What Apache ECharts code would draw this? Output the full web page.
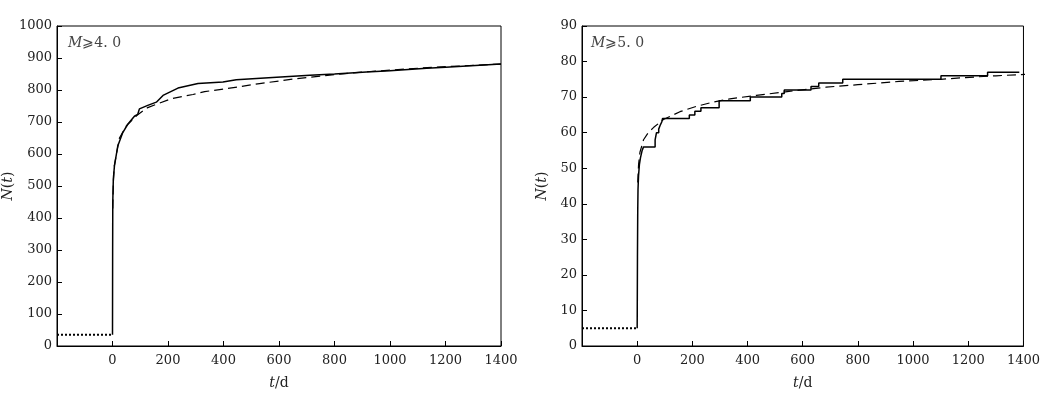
<!DOCTYPE html>
<html>
<head>
<meta charset="utf-8">
<script src="https://cdn.jsdelivr.net/npm/echarts@6/dist/echarts.min.js"></script>
<style>html,body{margin:0;padding:0;background:#fff}#c{width:1043px;height:395px}</style>
</head>
<body>
<div id="c"></div>
<script>
// ---- data ----
const xTicks = [0, 200, 400, 600, 800, 1000, 1200, 1400];
// left panel (M>=4.0)
const leftBefore = [[-200, 35], [0, 35]];
const leftObserved = [[0,35],[0.5,300],[1,450],[3,522],[7,563],[19,625],[37,667],[55,693],[79,718],[91,724],[97,741],[127,752],[158,762],[182,783],[236,806],[308,820],[398,825],[446,832],[577,839],[711,846],[800,850],[915,856],[1000,860],[1132,868],[1200,871],[1400,881]];
const leftModel = [[1,430],[3,510],[6,560],[13,594],[25,650],[49,687],[91,723],[127,745],[212,773],[290,786],[332,795],[410,804],[530,820],[650,834],[800,848],[900,856],[1000,862],[1100,868],[1200,873],[1300,877],[1400,881]];
// right panel (M>=5.0)
const rightBefore = [[-200, 5], [0, 5]];
const rightObserved = [[0,5],[1,25],[2,38],[3,44],[5,48],[8,51],[12,53],[18,55],[23,56],[65,58],[70,60],[78,61],[83,62],[89,63],[92,64],[189,65],[209,66],[231,67],[297,69],[410,70],[524,71],[533,72],[630,73],[658,74],[745,75],[1101,76],[1270,77],[1385,77]];
const rightModel = [[2,46],[5,51],[10,54.5],[23,58],[40,60],[60,61.5],[95,63.7],[155,65.9],[215,67.4],[275,68.6],[336,69.5],[432,70.5],[550,71.6],[685,72.8],[800,73.5],[949,74.4],[1100,75],[1190,75.5],[1300,76],[1440,76.5]];

const FONT = 'DejaVu Serif';
const chart = echarts.init(document.getElementById('c'), null, {renderer: 'canvas'});

function xAxis(gi) {
  return {
    gridIndex: gi, type: 'value', min: -200, max: 1400, interval: 200,
    name: '{i|t}/d', nameLocation: 'middle', nameGap: 30,
    nameTextStyle: {fontFamily: FONT, fontSize: 14, color: '#222', rich: {i: {fontStyle: 'italic', fontFamily: FONT, fontSize: 14, color: '#222'}}},
    axisLine: {show: true, onZero: false, lineStyle: {color: '#000', width: 1}},
    axisTick: {show: true, inside: true, length: 5, lineStyle: {color: '#000'}},
    axisLabel: {fontFamily: FONT, fontSize: 13, color: '#222', margin: 8,
      formatter: v => (xTicks.indexOf(v) >= 0 ? String(v) : '')},
    splitLine: {show: false}
  };
}
function yAxis(gi, max, interval, gap) {
  return {
    gridIndex: gi, type: 'value', min: 0, max: max, interval: interval,
    name: '{i|N}({i|t})', nameLocation: 'middle', nameGap: gap, nameRotate: 90,
    nameTextStyle: {fontFamily: FONT, fontSize: 14, color: '#222', rich: {i: {fontStyle: 'italic', fontFamily: FONT, fontSize: 14, color: '#222'}}},
    axisLine: {show: true, onZero: false, lineStyle: {color: '#000', width: 1}},
    axisTick: {show: true, inside: true, length: 5, lineStyle: {color: '#000'}},
    axisLabel: {fontFamily: FONT, fontSize: 13, color: '#222', margin: 5, formatter: v => String(v)},
    splitLine: {show: false}
  };
}
function lineSeries(gi, data, type, width, extra) {
  return Object.assign({
    type: 'line', xAxisIndex: gi, yAxisIndex: gi, data: data, showSymbol: false, symbol: 'none',
    lineStyle: {color: '#000', width: width, type: type}, silent: true
  }, extra || {});
}
const labelStyle = {i: {fontStyle: 'italic', fontFamily: FONT, fontSize: 14, fill: '#444'}, n: {fontFamily: FONT, fontSize: 14, fill: '#444'}};

chart.setOption({
  animation: false,
  backgroundColor: '#fff',
  grid: [
    {left: 57, top: 26, width: 444, height: 322, show: true, borderColor: '#000', borderWidth: 1},
    {left: 582, top: 26, width: 443, height: 322, show: true, borderColor: '#000', borderWidth: 1}
  ],
  xAxis: [xAxis(0), xAxis(1)],
  yAxis: [yAxis(0, 1000, 100, 39), yAxis(1, 90, 10, 33)],
  graphic: [
    {type: 'text', left: 68, top: 36, style: {rich: labelStyle, text: '{i|M}{n|⩾4. 0}'}},
    {type: 'text', left: 591, top: 36, style: {rich: labelStyle, text: '{i|M}{n|⩾5. 0}'}}
  ],
  series: [
    lineSeries(0, leftBefore, [2, 2], 2),
    lineSeries(0, leftObserved, 'solid', 1.5),
    lineSeries(0, leftModel, [9, 5], 1.2),
    lineSeries(1, rightBefore, [2, 2], 2),
    lineSeries(1, rightObserved, 'solid', 1.5, {step: 'end'}),
    lineSeries(1, rightModel, [9, 5], 1.2, {clip: false})
  ]
});
</script>
</body>
</html>
